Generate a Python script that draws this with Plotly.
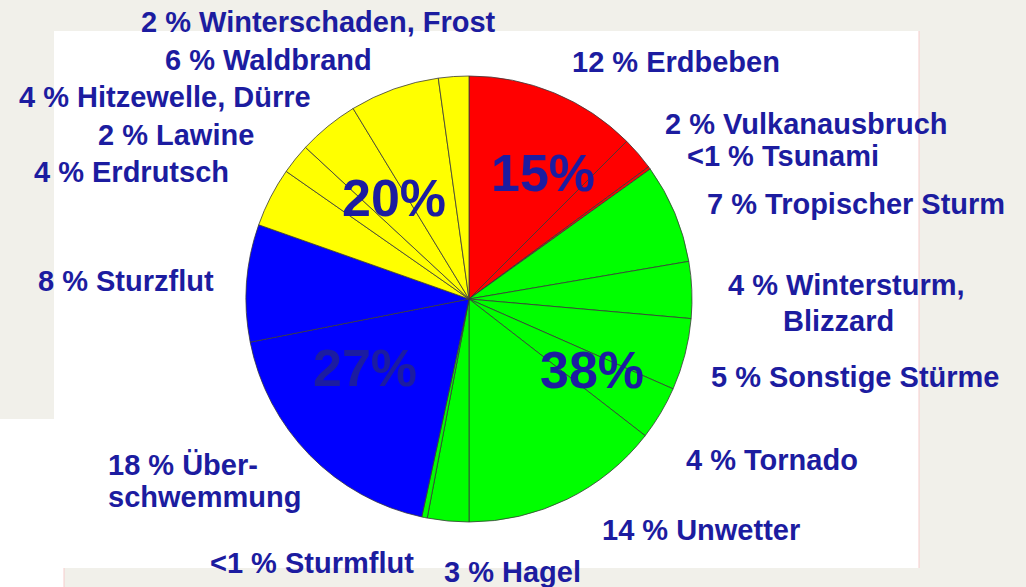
import plotly.graph_objects as go

W, H = 1026, 587

labels = ["Erdbeben", "Vulkanausbruch", "Tsunami", "Tropischer Sturm", "Wintersturm, Blizzard",
          "Sonstige Stürme", "Tornado", "Unwetter", "Hagel", "Sturmflut",
          "Überschwemmung", "Sturzflut", "Erdrutsch", "Lawine", "Hitzewelle, Dürre",
          "Waldbrand", "Winterschaden, Frost"]
values = [12.5, 2.4, 0.2, 7.2, 4.1, 5.2, 3.9, 14.5, 3.0, 0.4, 18.5, 8.5, 4.3, 2.2, 4.4, 6.5, 2.2]
groups = ["red", "red", "red", "green", "green", "green", "green", "green", "green", "green",
          "blue", "blue", "yellow", "yellow", "yellow", "yellow", "yellow"]
group_colors = {"red": "#ff0000", "green": "#00ff00", "blue": "#0000ff", "yellow": "#ffff00"}

# slice label lines: (text, x, y, anchor) in pixels
label_lines = [
    ("12 % Erdbeben", 676, 62, "center"),
    ("2 % Vulkanausbruch", 806, 124, "center"),
    ("<1 % Tsunami", 783, 156, "center"),
    ("7 % Tropischer Sturm", 856, 204, "center"),
    ("4 % Wintersturm,", 846, 285, "center"),
    ("Blizzard", 838, 321, "center"),
    ("5 % Sonstige Stürme", 855, 377, "center"),
    ("4 % Tornado", 772, 460, "center"),
    ("14 % Unwetter", 701, 530, "center"),
    ("3 % Hagel", 512, 572, "center"),
    ("<1 % Sturmflut", 312, 563, "center"),
    ("18 % Über-", 106, 465, "left"),
    ("schwemmung", 106, 497, "left"),
    ("8 % Sturzflut", 126, 281, "center"),
    ("4 % Erdrutsch", 131, 172, "center"),
    ("2 % Lawine", 176, 135, "center"),
    ("4 % Hitzewelle, Dürre", 165, 97, "center"),
    ("6 % Waldbrand", 268, 60, "center"),
    ("2 % Winterschaden, Frost", 318, 22, "center"),
]

group_texts = ["15%", "38%", "27%", "20%"]
group_pos = [(543, 173), (592, 370), (365, 368), (394, 198)]

TXT = "#1c1ca0"
FONT = "Liberation Sans, Arial, sans-serif"

cx, cy, r = 469, 299, 223

fig = go.Figure(go.Pie(
    labels=labels, values=values, sort=False, direction="clockwise", rotation=0,
    marker=dict(colors=[group_colors[g] for g in groups], line=dict(color="#3a3a3a", width=0.8)),
    textinfo="none", hoverinfo="label+percent",
    domain=dict(x=[(cx - r) / W, (cx + r) / W], y=[1 - (cy + r) / H, 1 - (cy - r) / H]),
    showlegend=False,
))

shapes = [
    dict(type="rect", xref="paper", yref="paper", x0=54 / W, x1=919 / W, y0=1 - 568 / H, y1=1 - 31 / H,
         fillcolor="white", line=dict(width=0), layer="below"),
    dict(type="rect", xref="paper", yref="paper", x0=0, x1=55 / W, y0=1 - 568 / H, y1=1 - 419 / H,
         fillcolor="white", line=dict(width=0), layer="below"),
    dict(type="rect", xref="paper", yref="paper", x0=0, x1=64 / W, y0=0, y1=1 - 567 / H,
         fillcolor="white", line=dict(width=0), layer="below"),
    dict(type="line", xref="paper", yref="paper", x0=919 / W, x1=919 / W, y0=1 - 568 / H, y1=1 - 31 / H,
         line=dict(color="#f6cccc", width=1), layer="below"),
    dict(type="line", xref="paper", yref="paper", x0=64 / W, x1=64 / W, y0=0, y1=1 - 568 / H,
         line=dict(color="#f6cccc", width=1), layer="below"),
]

annotations = []
for t, px, py, anc in label_lines:
    annotations.append(dict(
        text=f"<b>{t}</b>", x=px / W, y=1 - py / H, xref="paper", yref="paper",
        xanchor=anc, yanchor="middle", showarrow=False,
        font=dict(family=FONT, size=29, color=TXT)))
for t, (px, py) in zip(group_texts, group_pos):
    annotations.append(dict(
        text=f"<b>{t}</b>", x=px / W, y=1 - py / H, xref="paper", yref="paper",
        xanchor="center", yanchor="middle", showarrow=False,
        font=dict(family=FONT, size=52, color=TXT)))

fig.update_layout(
    width=W, height=H, margin=dict(l=0, r=0, t=0, b=0),
    paper_bgcolor="#f1f0ea", plot_bgcolor="#f1f0ea",
    shapes=shapes, annotations=annotations,
)

fig.write_html("out.html", config={"displayModeBar": False},
               post_script="document.body.style.margin='0';document.body.style.overflow='hidden';")
